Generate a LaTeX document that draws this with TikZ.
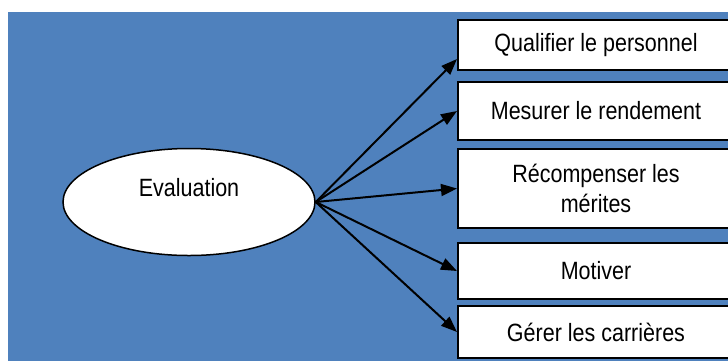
\documentclass[tikz,border=0pt]{standalone}
\usepackage{fontspec}
\setmainfont{Liberation Sans}[FakeStretch=0.86]
\usetikzlibrary{arrows.meta, shapes.geometric}

\definecolor{bgblue}{RGB}{79,129,189}

\begin{document}
\begin{tikzpicture}[x=1pt, y=-1pt,
    txt/.style={font=\fontsize{25}{30}\selectfont},
    goalbox/.style={txt, draw=black, line width=2pt, fill=white,
                    minimum width=276pt, align=center, inner sep=0pt},
    link/.style={line width=2pt, -{Triangle[length=16pt,width=12pt]}}]
  \useasboundingbox (0,0) rectangle (728,360);
  \clip (0,0) rectangle (728,360);
  \fill[bgblue] (8,12) rectangle (740,370);

  % centre
  \node[ellipse, draw=black, fill=white, line width=1.5pt,
        minimum width=252pt, minimum height=107pt,
        txt, text depth=30pt] (eval) at (189,202) {Evaluation};

  % goals
  \node[goalbox, minimum height=50pt] (qual) at (596,45) {Qualifier le personnel};
  \node[goalbox, minimum height=58pt] (mes) at (596,111) {Mesurer le rendement};
  \node[goalbox, minimum height=79pt] (rec) at (596,188.5) {Récompenser les\\mérites};
  \node[goalbox, minimum height=56pt] (mot) at (596,271) {Motiver};
  \node[goalbox, minimum height=52pt] (ger) at (596,332) {Gérer les carrières};

  % arrows
  \draw[link] (eval.east) -- ([yshift=-14pt]qual.west);
  \foreach \g in {mes, rec, mot, ger}
    \draw[link] (eval.east) -- (\g.west);
\end{tikzpicture}
\end{document}
